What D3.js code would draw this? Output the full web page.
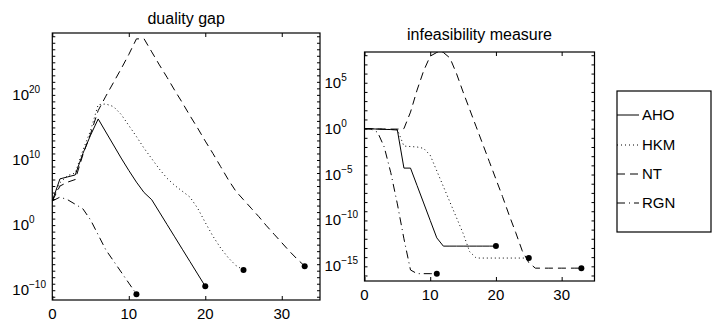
<!DOCTYPE html>
<html>
<head>
<meta charset="utf-8">
<script src="https://cdn.jsdelivr.net/npm/d3@7"></script>
<style>
  body { margin: 0; background: #fff; }
  svg { font-family: "Liberation Sans", Arial, sans-serif; }
</style>
</head>
<body>
<div id="chart"></div>
<script>
// log10 of each quantity per iteration (iteration = array index)
const gapAHO = [3.7, 7.1, 7.4, 7.7, 11.0, 13.8, 16.3, 14.3, 12.3, 10.3, 8.4, 6.6, 5.0, 3.9, 2.0, 0.1, -1.8, -3.7, -5.6, -7.5, -9.4];
const gapHKM = [3.7, 6.5, 7.6, 8.0, 11.5, 14.5, 18.5, 18.6, 18.2, 17.0, 15.3, 13.6, 11.8, 10.2, 8.6, 7.2, 6.1, 5.2, 4.3, 2.6, 0.4, -1.7, -3.5, -5.0, -6.2, -6.9];
const gapNT = [3.7, 6.0, 6.6, 7.0, 10.8, 14.0, 17.6, 19.8, 21.9, 24.0, 26.2, 28.6, 28.6, 26.6, 24.6, 22.7, 20.7, 18.8, 16.8, 14.9, 12.9, 11.0, 9.0, 7.0, 5.2, 3.9, 2.6, 1.3, -0.1, -1.4, -2.7, -4.0, -5.2, -6.3];
const gapRGN = [3.7, 4.3, 3.9, 3.2, 2.5, 0.8, -1.5, -3.8, -5.5, -7.2, -8.9, -10.6];

const infAHO = [0, -0.02, -0.05, -0.08, -0.1, -0.15, -4.3, -4.3, -6.2, -8.1, -10.0, -11.9, -12.8, -12.8, -12.8, -12.8, -12.8, -12.8, -12.8, -12.8, -12.8];
const infHKM = [0, 0, -0.05, -0.05, -0.1, -0.1, -1.9, -1.95, -2.0, -2.15, -2.9, -4.6, -6.3, -8.0, -9.7, -11.4, -13.4, -14.1, -14.1, -14.1, -14.1, -14.1, -14.1, -14.1, -14.1, -14.1];
const infNT = [0, 0, -0.03, -0.05, -0.05, -0.05, 0, 1.8, 4.2, 6.3, 7.9, 8.3, 8.3, 7.7, 6.0, 4.0, 2.1, 0.2, -1.7, -3.6, -5.5, -7.4, -9.4, -11.3, -13.3, -14.6, -15.2, -15.2, -15.2, -15.2, -15.2, -15.2, -15.2, -15.2];
const infRGN = [0, -0.05, -0.4, -2.0, -4.8, -8.2, -12.0, -15.4, -15.8, -15.8, -15.8, -15.8];

const methods = ['AHO', 'HKM', 'NT', 'RGN'];
const dashes = { AHO: null, HKM: '1,3', NT: '8,5', RGN: '8,4,1,4' };
const xTicks = [0, 10, 20, 30];
const gapTicks = [-10, 0, 10, 20];
const infTicks = [-15, -10, -5, 0, 5];

const svg = d3.select('#chart').append('svg')
  .attr('width', 712)
  .attr('height', 329);

function panel(opts) {
  const x = d3.scaleLinear().domain([0, 35]).range([opts.left, opts.right]);
  const y = d3.scaleLog().domain(opts.yDomain.map(e => Math.pow(10, e))).range([opts.bottom, opts.top]);
  const g = svg.append('g');

  // titulo
  g.append('text')
    .attr('x', (opts.left + opts.right) / 2)
    .attr('y', opts.titleY)
    .attr('text-anchor', 'middle')
    .attr('font-size', '16px')
    .text(opts.title);

  // marcas de cada decada, hacia dentro, en los cuatro lados
  const decades = d3.range(Math.ceil(opts.yDomain[0]), Math.floor(opts.yDomain[1]) + 1).map(e => Math.pow(10, e));
  g.append('g').attr('transform', `translate(${opts.left},0)`)
    .call(d3.axisLeft(y).tickValues(decades).tickSize(-3).tickFormat(''));
  g.append('g').attr('transform', `translate(${opts.right},0)`)
    .call(d3.axisRight(y).tickValues(decades).tickSize(-3).tickFormat(''));
  g.append('g').attr('transform', `translate(0,${opts.bottom})`)
    .call(d3.axisBottom(x).tickValues(xTicks).tickSize(-4).tickFormat(''));
  g.append('g').attr('transform', `translate(0,${opts.top})`)
    .call(d3.axisTop(x).tickValues(xTicks).tickSize(-4).tickFormat(''));
  g.selectAll('.domain').remove();
  g.selectAll('.tick line').attr('stroke', '#000');

  g.append('rect')
    .attr('x', opts.left).attr('y', opts.top)
    .attr('width', opts.right - opts.left).attr('height', opts.bottom - opts.top)
    .attr('fill', 'none').attr('stroke', '#000').attr('stroke-width', 1.2);

  // etiquetas
  g.selectAll('.xlab').data(xTicks).enter().append('text')
    .attr('x', d => x(d))
    .attr('y', opts.bottom + 19)
    .attr('text-anchor', 'middle')
    .attr('font-size', '15px')
    .text(d => d);

  opts.yTicks.forEach(e => {
    const t = g.append('text')
      .attr('x', opts.left - 40)
      .attr('y', y(Math.pow(10, e)) + 5)
      .attr('font-size', '15px');
    t.append('tspan').text('10');
    t.append('tspan').attr('dy', -7).attr('font-size', '10px').text(e < 0 ? '\u2212' + (-e) : e);
  });

  // series
  const line = d3.line().x((d, i) => x(i)).y(d => y(Math.pow(10, d)));
  opts.series.forEach((s, k) => {
    g.append('path')
      .datum(s)
      .attr('d', line)
      .attr('fill', 'none')
      .attr('stroke', '#000')
      .attr('stroke-width', 1)
      .attr('stroke-dasharray', dashes[methods[k]]);
    g.append('circle')
      .attr('cx', x(s.length - 1))
      .attr('cy', y(Math.pow(10, s[s.length - 1])))
      .attr('r', 3)
      .attr('fill', '#000');
  });
}

panel({
  title: 'duality gap', titleY: 24,
  left: 52.3, right: 320, top: 33, bottom: 300,
  yDomain: [-11.5, 29.5], yTicks: gapTicks,
  series: [gapAHO, gapHKM, gapNT, gapRGN]
});

panel({
  title: 'infeasibility measure', titleY: 40,
  left: 364.5, right: 594.5, top: 52, bottom: 281,
  yDomain: [-16.6, 8.35], yTicks: infTicks,
  series: [infAHO, infHKM, infNT, infRGN]
});

// leyenda
const legend = svg.append('g');
legend.append('rect')
  .attr('x', 617).attr('y', 91).attr('width', 94).attr('height', 141)
  .attr('fill', '#fff').attr('stroke', '#000').attr('stroke-width', 1.2);
const legendY = [115, 145, 174, 203];
methods.forEach((m, i) => {
  legend.append('line')
    .attr('x1', 617).attr('x2', 639)
    .attr('y1', legendY[i]).attr('y2', legendY[i])
    .attr('stroke', '#000')
    .attr('stroke-dasharray', dashes[m]);
  legend.append('text')
    .attr('x', 642)
    .attr('y', legendY[i] + 5)
    .attr('font-size', '15px')
    .text(m);
});
</script>
</body>
</html>
